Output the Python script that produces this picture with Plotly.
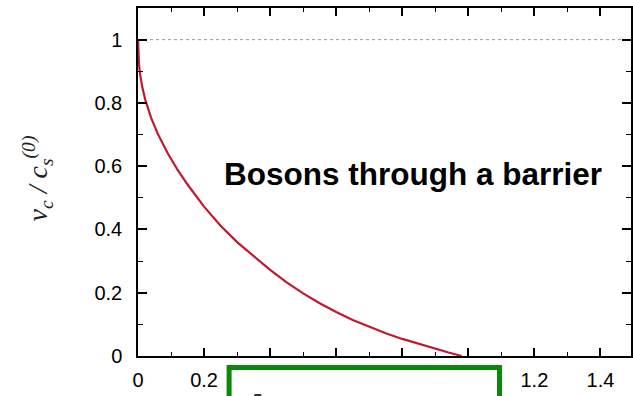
import plotly.graph_objects as go

# Critical velocity normalised by the bare sound speed, versus barrier strength
barrier = [0, 0.003, 0.007, 0.013, 0.022, 0.04, 0.06, 0.09, 0.12, 0.15, 0.2,
           0.25, 0.3, 0.35, 0.4, 0.45, 0.5, 0.55, 0.6, 0.65, 0.7, 0.75,
           0.8, 0.85, 0.9, 0.94, 0.98]
vc_ratio = [1.0, 0.922, 0.886, 0.85, 0.81, 0.752, 0.702, 0.641, 0.588, 0.542, 0.472,
            0.412, 0.36, 0.315, 0.272, 0.233, 0.198, 0.167, 0.139, 0.114, 0.092, 0.072,
            0.054, 0.038, 0.023, 0.011, 0.0]

# Reference level v_c = c_s^(0)
ref_x = [0, 1.5]
ref_y = [1.0, 1.0]

x_ticks = [0, 0.2, 0.4, 0.6, 0.8, 1.0, 1.2, 1.4]
y_ticks = [0, 0.2, 0.4, 0.6, 0.8, 1.0]

fig = go.Figure()
fig.add_trace(go.Scatter(x=ref_x, y=ref_y, mode="lines",
                         line=dict(color="#9a9a9a", width=1, dash="dot"),
                         hoverinfo="skip", showlegend=False))
fig.add_trace(go.Scatter(x=barrier, y=vc_ratio, mode="lines",
                         line=dict(color="#c4162f", width=2.2, shape="linear"),
                         showlegend=False))

axis_font = dict(family="Liberation Sans, Arial, sans-serif", size=20, color="black")

fig.update_xaxes(range=[0, 1.4925], tickvals=x_ticks, ticks="inside", ticklen=8,
                 tickwidth=1.5, tickcolor="black", showline=True, linecolor="black",
                 linewidth=1.5, mirror="ticks", showgrid=False, zeroline=False,
                 tickfont=axis_font, ticklabelstandoff=5,
                 minor=dict(dtick=0.1, ticks="inside", ticklen=4, tickwidth=1.2,
                            tickcolor="black", showgrid=False))
fig.update_yaxes(range=[0, 1.1], tickvals=y_ticks, ticks="inside", ticklen=9,
                 tickwidth=1.5, tickcolor="black", showline=True, linecolor="black",
                 linewidth=1.5, mirror="ticks", showgrid=False, zeroline=False,
                 tickfont=axis_font, ticklabelstandoff=10,
                 minor=dict(dtick=0.1, ticks="inside", ticklen=5, tickwidth=1.2,
                            tickcolor="black", showgrid=False))

fig.add_annotation(x=0.833, y=0.575, xref="x", yref="y", text="<b>Bosons through a barrier</b>",
                   showarrow=False, xanchor="center", yanchor="middle",
                   font=dict(family="Liberation Sans, Arial, sans-serif", size=31.5, color="black"))

fig.add_annotation(x=-0.203, y=0.51, xref="paper", yref="paper", textangle=-90,
                   text="<i>v</i><sub><i>c</i></sub><i> / c</i><sub><i>s</i></sub><sup><i>(0)</i></sup>",
                   showarrow=False, xanchor="center", yanchor="middle",
                   font=dict(family="Liberation Serif, Times New Roman, serif", size=28, color="#222"))

# Green framed inset running off the bottom edge
fig.add_shape(type="rect", xref="paper", yref="paper", x0=0.1848, x1=0.7333,
              y0=-0.033, y1=-0.25, line=dict(color="#0b870b", width=5),
              fillcolor="white", layer="above")
fig.add_shape(type="line", xref="paper", yref="paper", x0=0.236, x1=0.250,
              y0=-0.112, y1=-0.112, line=dict(color="#333", width=2), layer="above")

fig.update_layout(width=633, height=396, margin=dict(l=138, r=0, t=8, b=40),
                  plot_bgcolor="white", paper_bgcolor="white")

fig.write_html("out.html")
